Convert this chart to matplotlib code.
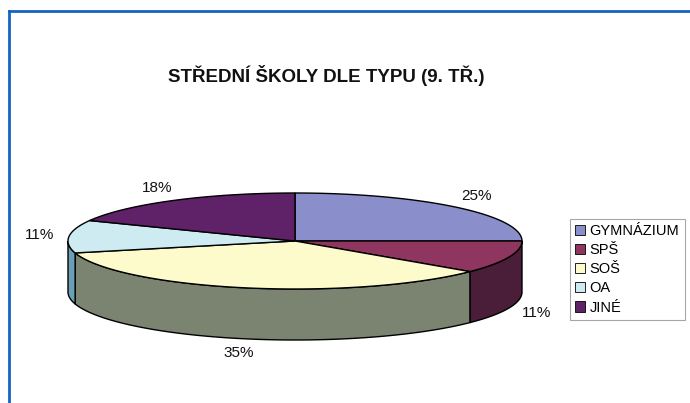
import numpy as np
import matplotlib
matplotlib.use("Agg")
import matplotlib.pyplot as plt
from matplotlib.patches import Patch
from matplotlib.lines import Line2D

plt.rcParams['font.family'] = ['Liberation Sans', 'DejaVu Sans']

# data
labels = ['GYMNÁZIUM', 'SPŠ', 'SOŠ', 'OA', 'JINÉ']
values = [25, 11, 35, 11, 18]
pct_text = ['25%', '11%', '35%', '11%', '18%']
title = 'STŘEDNÍ ŠKOLY DLE TYPU (9. TŘ.)'

top_colors = ['#8A8FCB', '#8E3560', '#FDFBCB', '#CDEBF0', '#5F2167']
side_colors = ['#6E73A8', '#4A1D38', '#7B8471', '#6A9FB5', '#45184C']

# pie geometry (pixel units, y grows downward)
CX, CY = 295, 241
A, B = 227, 48
DEPTH = 51

fig = plt.figure(figsize=(6.9, 4.03), dpi=100)
ax = fig.add_axes([0, 0, 1, 1])
ax.set_xlim(0, 690)
ax.set_ylim(403, 0)
ax.axis('off')

def ell(t_deg, drop=0):
    t = np.radians(t_deg)
    return CX + A * np.cos(t), CY - B * np.sin(t) + drop

# slice angles: start at 12 o'clock, go clockwise
fracs = np.array(values, dtype=float) / sum(values)
ends = 90 - 360 * np.cumsum(fracs)
starts = np.concatenate([[90], ends[:-1]])

# sides (only the front half, angles -180..0)
for i in range(len(values)):
    lo = max(ends[i], -180)
    hi = min(starts[i], 0)
    if hi <= lo:
        continue
    t = np.linspace(lo, hi, 80)
    xt, yt = ell(t)
    xb, yb = ell(t[::-1], DEPTH)
    ax.fill(np.concatenate([xt, xb]), np.concatenate([yt, yb]),
            facecolor=side_colors[i], edgecolor='black', linewidth=1.0, zorder=2)

# top wedges
for i in range(len(values)):
    t = np.linspace(starts[i], ends[i], 120)
    xt, yt = ell(t)
    ax.fill(np.concatenate([[CX], xt]), np.concatenate([[CY], yt]),
            facecolor=top_colors[i], edgecolor='black', linewidth=1.0, zorder=3)

# percentage labels
for i in range(len(values)):
    m = np.radians((starts[i] + ends[i]) / 2)
    lx = CX + (A + 30) * np.cos(m)
    ly = CY - (B + 15) * np.sin(m)
    if np.sin(m) < 0:
        ly += DEPTH
    ax.text(lx, ly, pct_text[i], ha='center', va='center', fontsize=11, color='#111111', zorder=4)

# title
ax.text(326, 76, title, ha='center', va='center', fontsize=13.5, fontweight='bold', color='#111111')

# legend
handles = [Patch(facecolor=c, edgecolor='black', linewidth=0.6) for c in top_colors]
leg = fig.legend(handles, labels, loc='upper left', bbox_to_anchor=(570 / 690, 1 - 219 / 403),
                 fontsize=10.5, frameon=True, fancybox=False, handlelength=0.7,
                 handleheight=0.7, handletextpad=0.3, labelspacing=0.35,
                 borderpad=0.35, borderaxespad=0)
leg.get_frame().set_edgecolor('#909090')
leg.get_frame().set_linewidth(0.8)

# blue frame (top and left)
fig.add_artist(Line2D([9 / 690, 9 / 690], [0, 1 - 10.5 / 403], color='#1565C0', linewidth=2,
                      transform=fig.transFigure))
fig.add_artist(Line2D([9 / 690, 1], [1 - 10.5 / 403, 1 - 10.5 / 403], color='#1565C0',
                      linewidth=2, transform=fig.transFigure))

fig.savefig('out.png', dpi=100)
